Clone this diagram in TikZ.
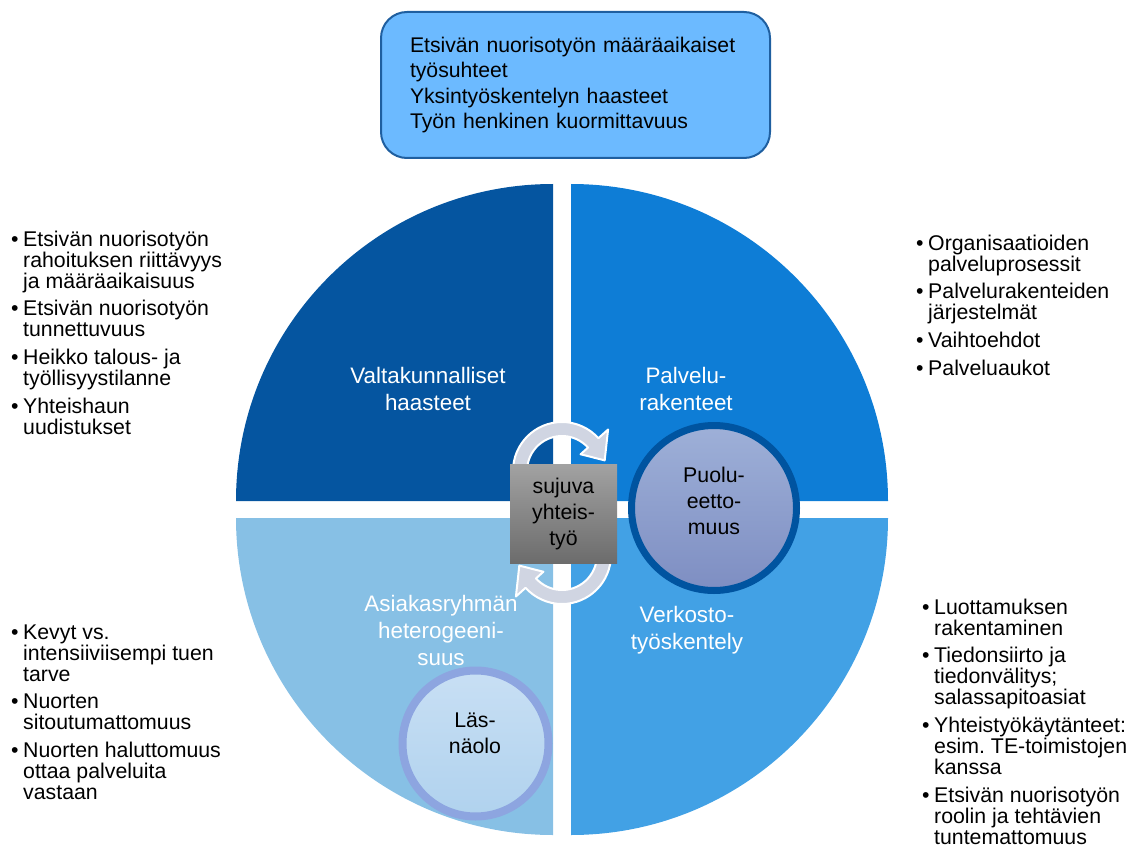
\documentclass[tikz,border=0pt]{standalone}
\usepackage{fontspec}
\setmainfont{Liberation Sans}
\frenchspacing
\definecolor{qTL}{RGB}{5,85,160}
\definecolor{qTR}{RGB}{14,125,214}
\definecolor{qBR}{RGB}{66,161,229}
\definecolor{qBL}{RGB}{135,192,229}
\definecolor{boxFill}{RGB}{108,186,255}
\definecolor{boxLine}{RGB}{31,95,160}
\definecolor{arrFill}{RGB}{208,213,226}
\definecolor{sqTop}{RGB}{162,162,162}
\definecolor{sqBot}{RGB}{108,108,108}
\definecolor{puTop}{RGB}{158,176,216}
\definecolor{puBot}{RGB}{126,142,194}
\definecolor{puRing}{RGB}{0,84,160}
\definecolor{laTop}{RGB}{200,223,244}
\definecolor{laBot}{RGB}{176,210,238}
\definecolor{laRing}{RGB}{141,165,224}
\newcommand{\bul}{\makebox[12pt][l]{•}}
\newcommand{\itm}[1]{\hangindent=12pt\hangafter=1\noindent\bul#1\par}
\newcommand{\lst}[2]{\parbox[t]{#1}{\fontsize{21.3}{21.1}\selectfont\frenchspacing\setlength{\parskip}{6.5pt}#2}}
\tikzset{
  quadlabel/.style={text=white,align=center,inner sep=0pt,font=\fontsize{22.4}{27}\selectfont},
  inlabel/.style={text=black,align=center,inner sep=0pt,font=\fontsize{21.3}{26}\selectfont},
  listnode/.style={anchor=base west,inner sep=0pt,text=black},
  arrowst/.style={fill=arrFill,draw=white,line width=2pt,line join=round}
}
\begin{document}
\begin{tikzpicture}[x=1pt,y=1pt,yscale=-1]
\useasboundingbox (0,0) rectangle (1133,848);
% quadrants
\fill[qTL] (553,501) -- (236,501) arc[start angle=180,end angle=270,radius=317] -- cycle;
\fill[qTR] (571,501) -- (571,184) arc[start angle=270,end angle=360,radius=317] -- cycle;
\fill[qBR] (571,518) -- (888,518) arc[start angle=0,end angle=90,radius=317] -- cycle;
\fill[qBL] (553,518) -- (553,835) arc[start angle=90,end angle=180,radius=317] -- cycle;
% quadrant labels
\node[quadlabel] (q1) at (428,389) {Valtakunnalliset\\haasteet};
\node[quadlabel] (q2) at (686,389) {Palvelu-\\rakenteet};
\node[quadlabel] (q3) at (441,630) {Asiakasryhmän\\heterogeeni-\\suus};
\node[quadlabel] (q4) at (687,630) {Verkosto-\\työskentely};
% circular arrows
\begin{scope}[shift={(562,471)}]
\path[arrowst] (180:49) arc[start angle=180,end angle=318,radius=49] -- (318:62) -- (346:44) -- (318:25) -- (318:35) arc[start angle=318,end angle=180,radius=35] -- cycle;
\end{scope}
\begin{scope}[shift={(562,555)}]
\path[arrowst] (0:49) arc[start angle=0,end angle=138,radius=49] -- (138:62) -- (166:44) -- (138:25) -- (138:35) arc[start angle=138,end angle=0,radius=35] -- cycle;
\end{scope}
% centre square
\node[rectangle,minimum width=107pt,minimum height=99pt,top color=sqTop,bottom color=sqBot,inner sep=0pt] (sq) at (563.5,513.5) {};
\node[inlabel] (sqt) at (563.5,514) {sujuva\\yhteis-\\työ};
% circles
\node[circle,minimum size=165pt,top color=puTop,bottom color=puBot,draw=puRing,line width=7pt,inner sep=0pt] (pu) at (714,508) {};
\node[inlabel] (put) at (714,501) {Puolu-\\eetto-\\muus};
\node[circle,minimum size=146pt,top color=laTop,bottom color=laBot,draw=laRing,line width=8pt,inner sep=0pt] (la) at (475.5,743.5) {};
\node[inlabel] (lat) at (475,733) {Läs-\\näolo};
% top box
\node[rectangle,rounded corners=26pt,fill=boxFill,draw=boxLine,line width=2pt,minimum width=389pt,minimum height=146pt,text width=331pt,align=left,inner sep=0pt,font=\fontsize{21.2}{25.5}\selectfont] (top) at (575.5,85) {Etsivän nuorisotyön määräaikaiset\\työsuhteet\\Yksintyöskentelyn haasteet\\Työn henkinen kuormittavuus};
% lists
\node[listnode] (lt) at (11,246) {\lst{230pt}{\itm{Etsivän nuorisotyön\\rahoituksen riittävyys\\ja määräaikaisuus}\itm{Etsivän nuorisotyön\\tunnettuvuus}\itm{Heikko talous- ja\\työllisyystilanne}\itm{Yhteishaun\\uudistukset}}};
\node[listnode] (rt) at (916,250) {\lst{215pt}{\itm{Organisaatioiden\\palveluprosessit}\itm{Palvelurakenteiden\\järjestelmät}\itm{Vaihtoehdot}\itm{Palveluaukot}}};
\node[listnode] (lb) at (11,639) {\lst{230pt}{\itm{Kevyt vs.\\intensiiviisempi tuen\\tarve}\itm{Nuorten\\sitoutumattomuus}\itm{Nuorten haluttomuus\\ottaa palveluita\\vastaan}}};
\node[listnode] (rb) at (922,614) {\lst{215pt}{\itm{Luottamuksen\\rakentaminen}\itm{Tiedonsiirto ja\\tiedonvälitys;\\salassapitoasiat}\itm{Yhteistyökäytänteet:\\esim. TE-toimistojen\\kanssa}\itm{Etsivän nuorisotyön\\roolin ja tehtävien\\tuntemattomuus}}};
\end{tikzpicture}
\end{document}
